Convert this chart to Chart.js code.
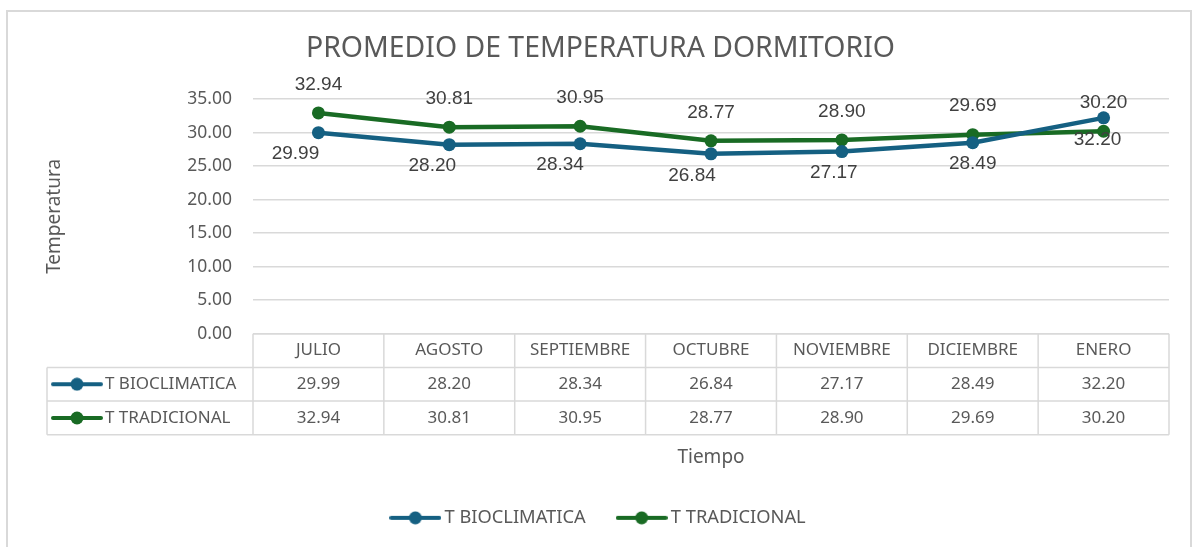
<!DOCTYPE html>
<html lang="es">
<head>
<meta charset="UTF-8">
<title>Promedio de temperatura dormitorio</title>
<script src="https://cdn.jsdelivr.net/npm/chart.js"></script>
<style>
  html, body { margin: 0; padding: 0; background: #fff; }
  .chart-box { position: relative; width: 1198px; height: 547px; }
</style>
</head>
<body>
<div class="chart-box"><canvas id="tempChart"></canvas></div>
<script>
// datos
const meses = ['JULIO', 'AGOSTO', 'SEPTIEMBRE', 'OCTUBRE', 'NOVIEMBRE', 'DICIEMBRE', 'ENERO'];
const tBioclimatica = [29.99, 28.20, 28.34, 26.84, 27.17, 28.49, 32.20];
const tTradicional = [32.94, 30.81, 30.95, 28.77, 28.90, 29.69, 30.20];
const yTicks = [0, 5, 10, 15, 20, 25, 30, 35];

const azul = '#156082';
const verde = '#196B24';
const gris = '#595959';
const borde = '#d9d9d9';
const fuente = "'Noto Sans', sans-serif";

// marcador linea + punto (leyenda y tabla)
function marcador(color) {
  const c = document.createElement('canvas');
  c.width = 52; c.height = 14;
  const g = c.getContext('2d');
  g.strokeStyle = color; g.lineWidth = 4; g.lineCap = 'round';
  g.beginPath(); g.moveTo(2, 7); g.lineTo(50, 7); g.stroke();
  g.fillStyle = color;
  g.beginPath(); g.arc(26, 7, 6.5, 0, Math.PI * 2); g.fill();
  return c;
}
const marcadores = [marcador(azul), marcador(verde)];

// marco exterior
const marco = {
  id: 'marco',
  beforeDraw(chart) {
    const c = chart.ctx;
    c.save();
    c.strokeStyle = borde; c.lineWidth = 2;
    c.strokeRect(7, 11, 1184, 545);
    c.restore();
  }
};

// etiquetas de valor junto a cada punto
const etiquetas = {
  id: 'etiquetas',
  afterDatasetsDraw(chart, args, opts) {
    const c = chart.ctx;
    c.save();
    c.font = "19px 'Liberation Sans', Arial, sans-serif";
    c.fillStyle = '#404040';
    c.textAlign = 'center';
    c.textBaseline = 'middle';
    chart.data.datasets.forEach((ds, d) => {
      const meta = chart.getDatasetMeta(d);
      const pos = opts.series[d];
      meta.data.forEach((pt, i) => {
        c.fillText(ds.data[i].toFixed(2), pt.x + (pos.dx[i] || 0), pt.y + pos.dy);
      });
    });
    c.restore();
  }
};

// tabla de datos bajo el eje X
const tabla = {
  id: 'tabla',
  afterDraw(chart) {
    const c = chart.ctx;
    const x = chart.scales.x;
    const area = chart.chartArea;
    const ancho = (area.right - area.left) / meses.length;
    const fila = 33.7;
    const y0 = area.bottom;
    const izq = 47;
    c.save();
    c.strokeStyle = borde; c.lineWidth = 1.5;
    c.beginPath();
    c.moveTo(area.left, y0); c.lineTo(area.right, y0);
    for (let r = 1; r <= 3; r++) {
      c.moveTo(izq, y0 + r * fila); c.lineTo(area.right, y0 + r * fila);
    }
    c.moveTo(izq, y0 + fila); c.lineTo(izq, y0 + 3 * fila);
    for (let i = 0; i <= meses.length; i++) {
      const xx = area.left + i * ancho;
      c.moveTo(xx, y0); c.lineTo(xx, y0 + 3 * fila);
    }
    c.stroke();

    c.font = '17px ' + fuente;
    c.fillStyle = gris;
    c.textAlign = 'center';
    c.textBaseline = 'middle';
    const filas = [tBioclimatica, tTradicional];
    meses.forEach((m, i) => {
      const cx = x.getPixelForValue(i);
      c.fillText(m, cx, y0 + fila / 2);
      filas.forEach((serie, r) => {
        c.fillText(serie[i].toFixed(2), cx, y0 + fila * (r + 1.5));
      });
    });
    c.textAlign = 'left';
    chart.data.datasets.forEach((ds, r) => {
      const cy = y0 + fila * (r + 1.5);
      c.drawImage(marcadores[r], 51, cy - 7);
      c.fillText(ds.label, 105, cy);
    });
    c.restore();
  }
};

const padIzq = 32;

const ctx = document.getElementById('tempChart').getContext('2d');
const tempChart = new Chart(ctx, {
  type: 'line',
  data: {
    labels: meses,
    datasets: [{
      label: 'T BIOCLIMATICA',
      data: tBioclimatica,
      borderColor: azul,
      backgroundColor: azul,
      borderWidth: 4.5,
      pointRadius: 6.5,
      pointBorderWidth: 0,
      pointBackgroundColor: azul
    }, {
      label: 'T TRADICIONAL',
      data: tTradicional,
      borderColor: verde,
      backgroundColor: verde,
      borderWidth: 4.5,
      pointRadius: 6.5,
      pointBorderWidth: 0,
      pointBackgroundColor: verde
    }]
  },
  options: {
    responsive: true,
    maintainAspectRatio: false,
    animation: false,
    layout: { padding: { top: 10, left: padIzq, right: 29, bottom: 10 } },
    scales: {
      x: {
        offset: true,
        ticks: { display: false },
        grid: { display: false },
        border: { display: false },
        title: {
          display: true,
          text: 'Tiempo',
          color: gris,
          font: { family: fuente, size: 19 },
          padding: { top: 4, bottom: 4 }
        },
        afterFit: s => { s.height = 139; }
      },
      y: {
        min: 0,
        max: 35,
        afterBuildTicks: s => { s.ticks = yTicks.map(v => ({ value: v })); },
        ticks: {
          callback: v => v.toFixed(2),
          color: gris,
          font: { family: fuente, size: 17.5 },
          padding: 21
        },
        grid: { color: borde, lineWidth: 1.5, drawTicks: false },
        border: { display: false },
        title: {
          display: true,
          text: 'Temperatura',
          color: gris,
          font: { family: fuente, size: 19 },
          padding: { top: 11, bottom: 0 }
        },
        afterFit: s => { s.width = 253 - padIzq; }
      }
    },
    plugins: {
      title: {
        display: true,
        text: 'PROMEDIO DE TEMPERATURA DORMITORIO',
        color: gris,
        font: { family: fuente, size: 28.4, weight: 'normal' },
        padding: { top: 22, bottom: 33 }
      },
      legend: {
        position: 'bottom',
        labels: {
          usePointStyle: true,
          pointStyleWidth: 40,
          padding: 36,
          color: gris,
          font: { family: fuente, size: 18.3 },
          generateLabels(chart) {
            const items = Chart.defaults.plugins.legend.labels.generateLabels(chart);
            items.forEach(it => { it.pointStyle = marcadores[it.datasetIndex]; });
            return items;
          }
        }
      },
      tooltip: { enabled: false },
      etiquetas: {
        series: [
          { dy: 21.5, dx: [-23, -17, -20, -19, -8, 0, -6] },
          { dy: -28.5, dx: [] }
        ]
      }
    }
  },
  plugins: [marco, etiquetas, tabla]
});
</script>
</body>
</html>
